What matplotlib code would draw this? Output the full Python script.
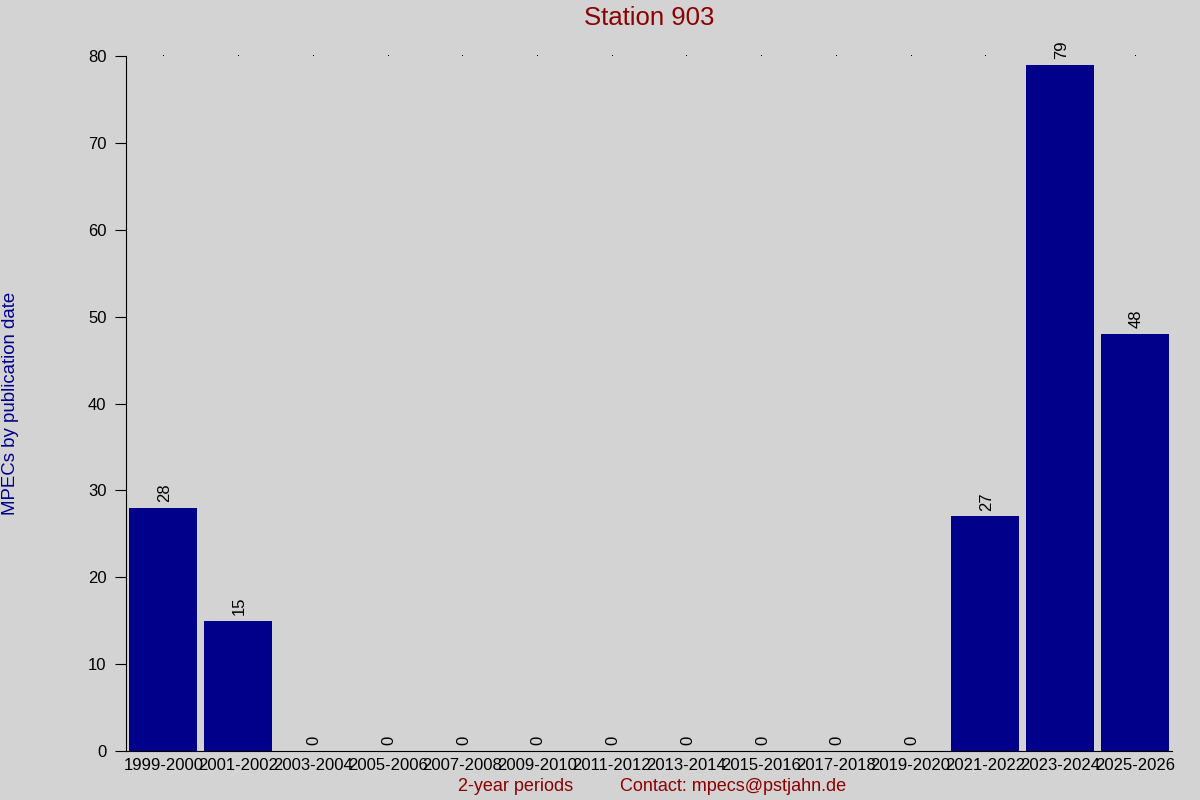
import numpy as np
import matplotlib.pyplot as plt

plt.rcParams['font.family'] = ['Liberation Sans', 'DejaVu Sans']

periods = ['1999-2000', '2001-2002', '2003-2004', '2005-2006', '2007-2008',
           '2009-2010', '2011-2012', '2013-2014', '2015-2016', '2017-2018',
           '2019-2020', '2021-2022', '2023-2024', '2025-2026']
counts = [28, 15, 0, 0, 0, 0, 0, 0, 0, 0, 0, 27, 79, 48]
y_ticks = [0, 10, 20, 30, 40, 50, 60, 70, 80]

bg = '#d3d3d3'
fig = plt.figure(figsize=(12, 8), dpi=100, facecolor=bg)
ax = fig.add_axes([0.105, 0.06125, 0.8717, 0.86875], facecolor=bg)

x = np.arange(len(periods))
ax.bar(x, counts, width=0.91, color='#00008b')
ax.set_xlim(-0.5, len(periods) - 0.5)
ax.set_ylim(0, 80)

for xi, v in zip(x, counts):
    ax.annotate(str(v), (xi, v), xytext=(1, 4), textcoords='offset points',
                rotation=90, ha='center', va='bottom', fontsize=12, color='black')

# tiny dots along the top
ax.plot(x, [80] * len(x), ',', color='black', clip_on=False)

ax.set_xticks(x)
ax.set_xticklabels(periods, fontsize=12)
ax.tick_params(axis='x', length=0, pad=5)
ax.set_yticks(y_ticks)
ax.tick_params(axis='y', length=8, labelsize=12, pad=6)

ax.spines['top'].set_visible(False)
ax.spines['right'].set_visible(False)

ax.set_title('Station 903', fontsize=18.5, color='#8b0000', pad=22)
fig.text(0.43, 0.011, '2-year periods', fontsize=13, color='#8b0000', ha='center')
fig.text(0.611, 0.011, 'Contact: mpecs@pstjahn.de', fontsize=13, color='#8b0000', ha='center')
fig.text(0.009, 0.496, 'MPECs by publication date', fontsize=13.4, color='#00008b',
         rotation=90, ha='center', va='center')

fig.savefig('out.png', dpi=100, facecolor=bg)
